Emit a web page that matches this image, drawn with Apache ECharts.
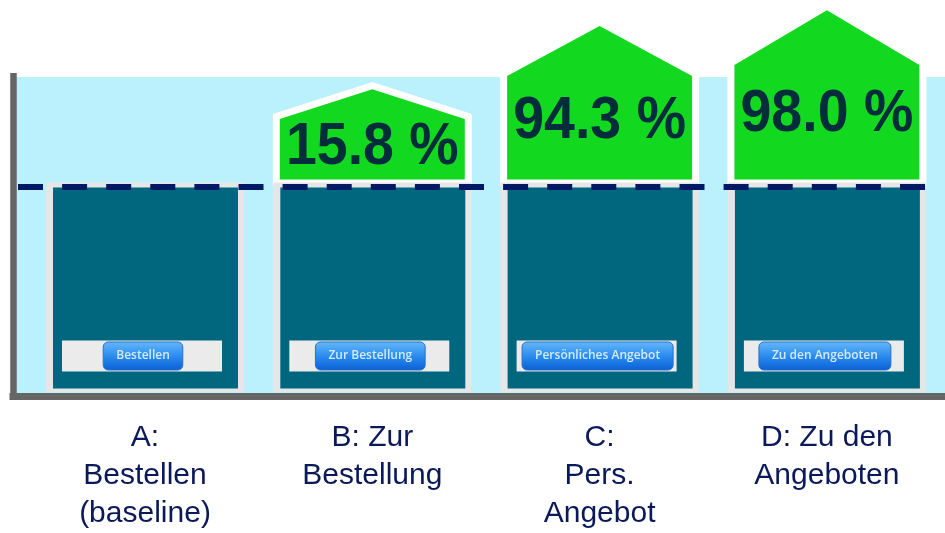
<!DOCTYPE html>
<html>
<head>
<meta charset="utf-8">
<script src="https://cdn.jsdelivr.net/npm/echarts/dist/echarts.min.js"></script>
<style>
  html, body { margin: 0; padding: 0; background: #ffffff; }
  #chart { width: 945px; height: 533px; }
</style>
</head>
<body>
<div id="chart"></div>
<script>
// ---- data ----
const categories = ['A:\nBestellen\n(baseline)', 'B: Zur\nBestellung', 'C:\nPers.\nAngebot', 'D: Zu den\nAngeboten'];
const buttonLabels = ['Bestellen', 'Zur Bestellung', 'Persönliches Angebot', 'Zu den Angeboten'];
const upliftPct = [null, 15.8, 94.3, 98.0];          // conversion uplift vs. baseline, %
const baselineIndex = [100, 100, 100, 100];           // baseline level (index, A = 100)
const houseShoulder = [null, 132.6, 153.5, 158.8];   // visual height of house walls (index units)
const housePeak = [null, 147.0, 177.8, 185.4];       // visual height of house roof peak (index units)

// ---- styling ----
const LIGHT_BLUE = '#BBF0FD';
const TEAL = '#00677E';
const GREEN = '#12D920';
const BOX_GRAY = '#E6E6E6';
const PANEL_GRAY = '#EBEBEB';
const AXIS_GRAY = '#666666';
const DASH_NAVY = '#001964';
const BTN_FONT = '600 12px "Open Sans", "DejaVu Sans", sans-serif';

const measureCtx = document.createElement('canvas').getContext('2d');
function textWidth(t, font) { measureCtx.font = font; return measureCtx.measureText(t).width; }

const seriesData = categories.map((c, i) => [
  i,
  baselineIndex[i],
  houseShoulder[i] == null ? 0 : houseShoulder[i],
  housePeak[i] == null ? 0 : housePeak[i],
  upliftPct[i] == null ? 0 : upliftPct[i]
]);

function renderItem(params, api) {
  const i = api.value(0);
  const basePt = api.coord([i, api.value(1)]);
  const cx = basePt[0];
  const yBase = basePt[1];
  const yBottom = api.coord([i, 0])[1];
  const band = api.size([1, 0])[0];
  const outerW = band * 0.871;
  const innerW = outerW - 13;
  const children = [];

  const shoulder = api.value(2), peak = api.value(3), uplift = api.value(4);
  if (shoulder > 0) {
    const l = cx - innerW / 2, r = cx + innerW / 2;
    const yb = yBase - 6.5;
    const ys = api.coord([i, shoulder])[1];
    const yp = api.coord([i, peak])[1];
    const pts = [[l, yb], [l, ys], [cx, yp], [r, ys], [r, yb]];
    children.push({
      type: 'polygon', shape: { points: pts },
      style: { fill: '#ffffff', stroke: '#ffffff', lineWidth: 14, lineJoin: 'miter' }
    });
    children.push({
      type: 'polygon', shape: { points: pts },
      style: { fill: GREEN }
    });
    children.push({
      type: 'text', x: cx, y: ys + 0.4 * (yb - ys) + 4, scaleX: 0.925, z2: 10,
      style: {
        text: uplift.toFixed(1) + ' %',
        font: 'bold 60px "Liberation Sans", Arial, sans-serif',
        fill: '#032D3C', align: 'center', verticalAlign: 'middle'
      }
    });
  }

  // baseline box (light gray frame + teal page)
  children.push({
    type: 'rect',
    shape: { x: cx - outerW / 2, y: yBase - 3.5, width: outerW, height: yBottom - (yBase - 3.5) },
    style: { fill: BOX_GRAY }
  });
  children.push({
    type: 'rect',
    shape: { x: cx - outerW / 2 + 7, y: yBase + 1.5, width: outerW - 13, height: (yBottom - 3.5) - (yBase + 1.5) },
    style: { fill: TEAL }
  });

  // button panel + button
  const label = buttonLabels[i];
  const bw = textWidth(label, BTN_FONT) + 26;
  children.push({
    type: 'rect',
    shape: { x: cx - 3 - 80, y: yBottom - 51.5, width: 160, height: 31 },
    style: { fill: PANEL_GRAY }
  });
  children.push({
    type: 'rect',
    shape: { x: cx - 2 - bw / 2, y: yBottom - 50, width: bw, height: 28, r: 5 },
    style: {
      fill: new echarts.graphic.LinearGradient(0, 0, 0, 1, [
        { offset: 0, color: '#66B8F8' },
        { offset: 0.5, color: '#2B8DEF' },
        { offset: 1, color: '#0A5ED6' }
      ]),
      stroke: '#2C6FCB', lineWidth: 1
    }
  });
  children.push({
    type: 'text', x: cx - 2, y: yBottom - 36,
    style: {
      text: label, font: BTN_FONT, fill: '#D6EAFB',
      align: 'center', verticalAlign: 'middle'
    }
  });

  return { type: 'group', children: children };
}

const chart = echarts.init(document.getElementById('chart'), null, { renderer: 'canvas' });

chart.setOption({
  animation: false,
  backgroundColor: '#ffffff',
  grid: [
    { left: 31.35, right: 4.45, top: 77, bottom: 140 },                 // 0 main
    { left: 16, right: 0, top: 77, bottom: 140, show: true,             // 1 background
      backgroundColor: LIGHT_BLUE, borderWidth: 0 },
    { left: 9.5, right: 0, top: 73, bottom: 133.5 },                     // 2 axis lines
    { left: 18, right: 18, top: 77, bottom: 140 }                        // 3 dashed baseline
  ],
  xAxis: [
    { gridIndex: 0, type: 'category', data: categories,
      axisLine: { show: false }, axisTick: { show: false }, splitLine: { show: false },
      axisLabel: {
        interval: 0, margin: 27, fontSize: 30, lineHeight: 38,
        fontFamily: '"Liberation Sans", Arial, sans-serif', color: '#0A195A', align: 'center'
      } },
    { gridIndex: 1, type: 'value', show: false, min: 0, max: 1 },
    { gridIndex: 2, type: 'value', min: 0, max: 1, offset: -3.5,
      axisLine: { show: true, onZero: false, lineStyle: { color: AXIS_GRAY, width: 7, cap: 'butt' } },
      axisTick: { show: false }, axisLabel: { show: false }, splitLine: { show: false } },
    { gridIndex: 3, type: 'value', show: false, min: 0, max: 1 }
  ],
  yAxis: [
    { gridIndex: 0, type: 'value', show: false, min: 0, max: 153 },
    { gridIndex: 1, type: 'value', show: false, min: 0, max: 153 },
    { gridIndex: 2, type: 'value', min: 0, max: 1, offset: -3.25,
      axisLine: { show: true, onZero: false, lineStyle: { color: AXIS_GRAY, width: 6.5, cap: 'butt' } },
      axisTick: { show: false }, axisLabel: { show: false }, splitLine: { show: false } },
    { gridIndex: 3, type: 'value', show: false, min: 0, max: 153 }
  ],
  series: [
    {
      type: 'custom', xAxisIndex: 0, yAxisIndex: 0,
      renderItem: renderItem, clip: false, silent: true,
      data: seriesData, z: 2
    },
    {
      type: 'line', xAxisIndex: 3, yAxisIndex: 3, z: 5,
      data: [[0, baselineIndex[0]]], symbol: 'none', showSymbol: false,
      lineStyle: { opacity: 0 }, silent: true,
      markLine: {
        silent: true, symbol: ['none', 'none'], label: { show: false },
        lineStyle: { color: DASH_NAVY, width: 6, type: [25, 19.1], opacity: 1 },
        emphasis: { disabled: true },
        data: [{ yAxis: baselineIndex[0] }]
      }
    }
  ]
});
</script>
</body>
</html>
